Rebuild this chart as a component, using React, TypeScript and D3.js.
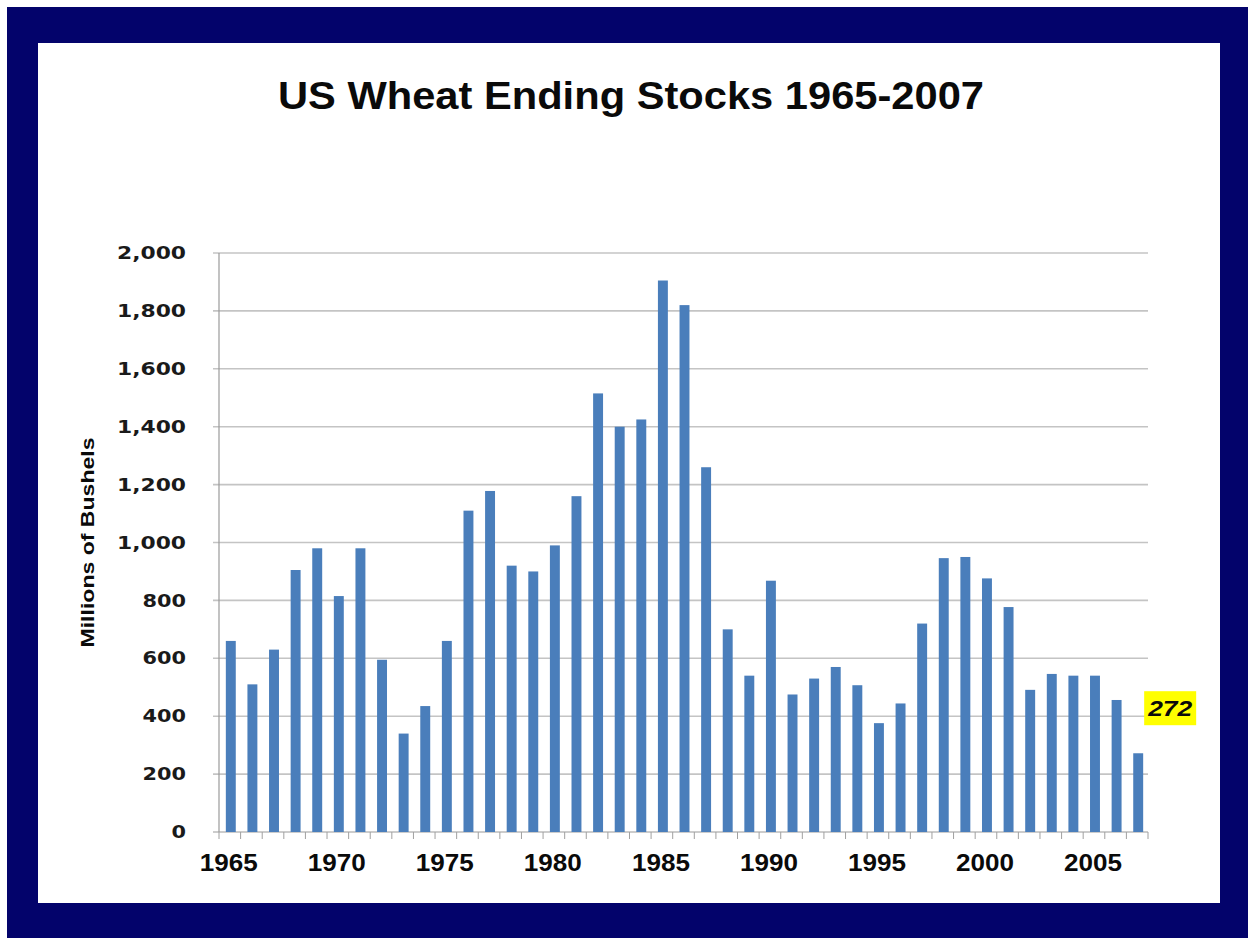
import React from "react";
import * as d3 from "d3";

const years: number[] = [
  1965, 1966, 1967, 1968, 1969, 1970, 1971, 1972, 1973, 1974,
  1975, 1976, 1977, 1978, 1979, 1980, 1981, 1982, 1983, 1984,
  1985, 1986, 1987, 1988, 1989, 1990, 1991, 1992, 1993, 1994,
  1995, 1996, 1997, 1998, 1999, 2000, 2001, 2002, 2003, 2004,
  2005, 2006, 2007,
];
const stocks: number[] = [
  660, 510, 630, 905, 980, 815, 980, 595, 340, 435,
  660, 1110, 1178, 920, 900, 990, 1160, 1515, 1400, 1425,
  1905, 1820, 1260, 700, 540, 868, 475, 530, 570, 507,
  376, 444, 720, 946, 950, 876, 777, 491, 546, 540,
  540, 456, 272,
];
const yTicks: number[] = [0, 200, 400, 600, 800, 1000, 1200, 1400, 1600, 1800, 2000];
const xLabelYears: number[] = [1965, 1970, 1975, 1980, 1985, 1990, 1995, 2000, 2005];
const title = "US Wheat Ending Stocks 1965-2007";
const yAxisTitle = "Millions of Bushels";
const calloutText = "272";

const W = 1248;
const H = 938;
const plot = { left: 220, right: 1149, top: 253, bottom: 832 };

export default function App() {
  const x = d3
    .scaleBand<number>()
    .domain(years)
    .range([plot.left, plot.right])
    .paddingInner(0.54)
    .paddingOuter(0.27);
  const y = d3.scaleLinear().domain([0, 2000]).range([plot.bottom, plot.top]);
  const fmt = d3.format(",");
  const step = x.step();
  const bandStart = plot.left;
  const lastYear = years[years.length - 1];
  const lastVal = stocks[stocks.length - 1];

  const yLabelWidth = (s: string) => {
    const digits = s.replace(/,/g, "").length;
    const commas = s.length - digits;
    return digits * 14.5 + commas * 11;
  };

  return (
    <svg
      width={W}
      height={H}
      style={{ position: "absolute", left: 0, top: 0, display: "block" }}
      fontFamily="'DejaVu Sans', sans-serif"
    >
      <rect x={0} y={0} width={W} height={H} fill="#ffffff" />
      <rect x={7} y={7} width={W - 7} height={H - 7} fill="#03036b" />
      <rect x={38} y={43} width={1182} height={860} fill="#ffffff" />

      {/* Title */}
      <text
        x={631}
        y={109}
        textAnchor="middle"
        fontFamily="'Liberation Sans', Arial, sans-serif"
        fontWeight="bold"
        fontSize={38}
        fill="#0a0a0a"
        textLength={706}
        lengthAdjust="spacingAndGlyphs"
      >
        {title}
      </text>

      {/* Gridlines */}
      {yTicks.map((t) => (
        <line
          key={"g" + t}
          x1={plot.left - 7}
          x2={plot.right - 1}
          y1={y(t)}
          y2={y(t)}
          stroke={t === 0 ? "#9a9a9a" : "#c4c4c4"}
          strokeWidth={t === 0 ? 1.2 : 1.6}
        />
      ))}

      {/* Y axis line */}
      <line x1={plot.left - 1} x2={plot.left - 1} y1={plot.top} y2={plot.bottom} stroke="#9a9a9a" strokeWidth={1.2} />

      {/* X ticks */}
      {d3.range(years.length + 1).map((i) => (
        <line
          key={"xt" + i}
          x1={bandStart + i * step - 1}
          x2={bandStart + i * step - 1}
          y1={plot.bottom}
          y2={plot.bottom + 7}
          stroke="#a0a0a0"
          strokeWidth={1}
        />
      ))}

      {/* Bars */}
      {years.map((yr, i) => (
        <rect
          key={"b" + yr}
          x={x(yr)}
          y={y(stocks[i])}
          width={x.bandwidth()}
          height={plot.bottom - y(stocks[i])}
          fill="#4a7ebb"
        />
      ))}

      {/* Y tick labels */}
      {yTicks.map((t) => {
        const s = fmt(t);
        return (
          <text
            key={"yl" + t}
            x={186}
            y={y(t)}
            dy="0.36em"
            textAnchor="end"
            fontWeight="bold"
            fontSize={17}
            fill="#1a1a1a"
            textLength={yLabelWidth(s)}
            lengthAdjust="spacingAndGlyphs"
          >
            {s}
          </text>
        );
      })}

      {/* Y axis title */}
      <text
        transform={`translate(94, ${(plot.top + plot.bottom) / 2}) rotate(-90)`}
        textAnchor="middle"
        fontFamily="'Liberation Sans', Arial, sans-serif"
        fontWeight="bold"
        fontSize={19}
        fill="#0a0a0a"
        textLength={210}
        lengthAdjust="spacingAndGlyphs"
      >
        {yAxisTitle}
      </text>

      {/* X labels */}
      {xLabelYears.map((yr) => (
        <text
          key={"xl" + yr}
          x={(x(yr) as number) + x.bandwidth() / 2 - 2}
          y={871}
          textAnchor="middle"
          fontFamily="'Liberation Sans', Arial, sans-serif"
          fontWeight="bold"
          fontSize={24}
          fill="#0a0a0a"
          textLength={58}
          lengthAdjust="spacingAndGlyphs"
        >
          {yr}
        </text>
      ))}

      {/* Callout */}
      <g>
        <rect
          x={(x(lastYear) as number) + x.bandwidth() + 1}
          y={y(400) - 25}
          width={52}
          height={34}
          fill="#ffff00"
        />
        <text
          x={(x(lastYear) as number) + x.bandwidth() + 27}
          y={y(400) - 8}
          dy="0.36em"
          textAnchor="middle"
          fontFamily="'Liberation Sans', Arial, sans-serif"
          fontWeight="bold"
          fontStyle="italic"
          fontSize={22}
          fill="#0a0a0a"
          textLength={44}
          lengthAdjust="spacingAndGlyphs"
        >
          {calloutText}
        </text>
        <title>{lastVal}</title>
      </g>
    </svg>
  );
}
